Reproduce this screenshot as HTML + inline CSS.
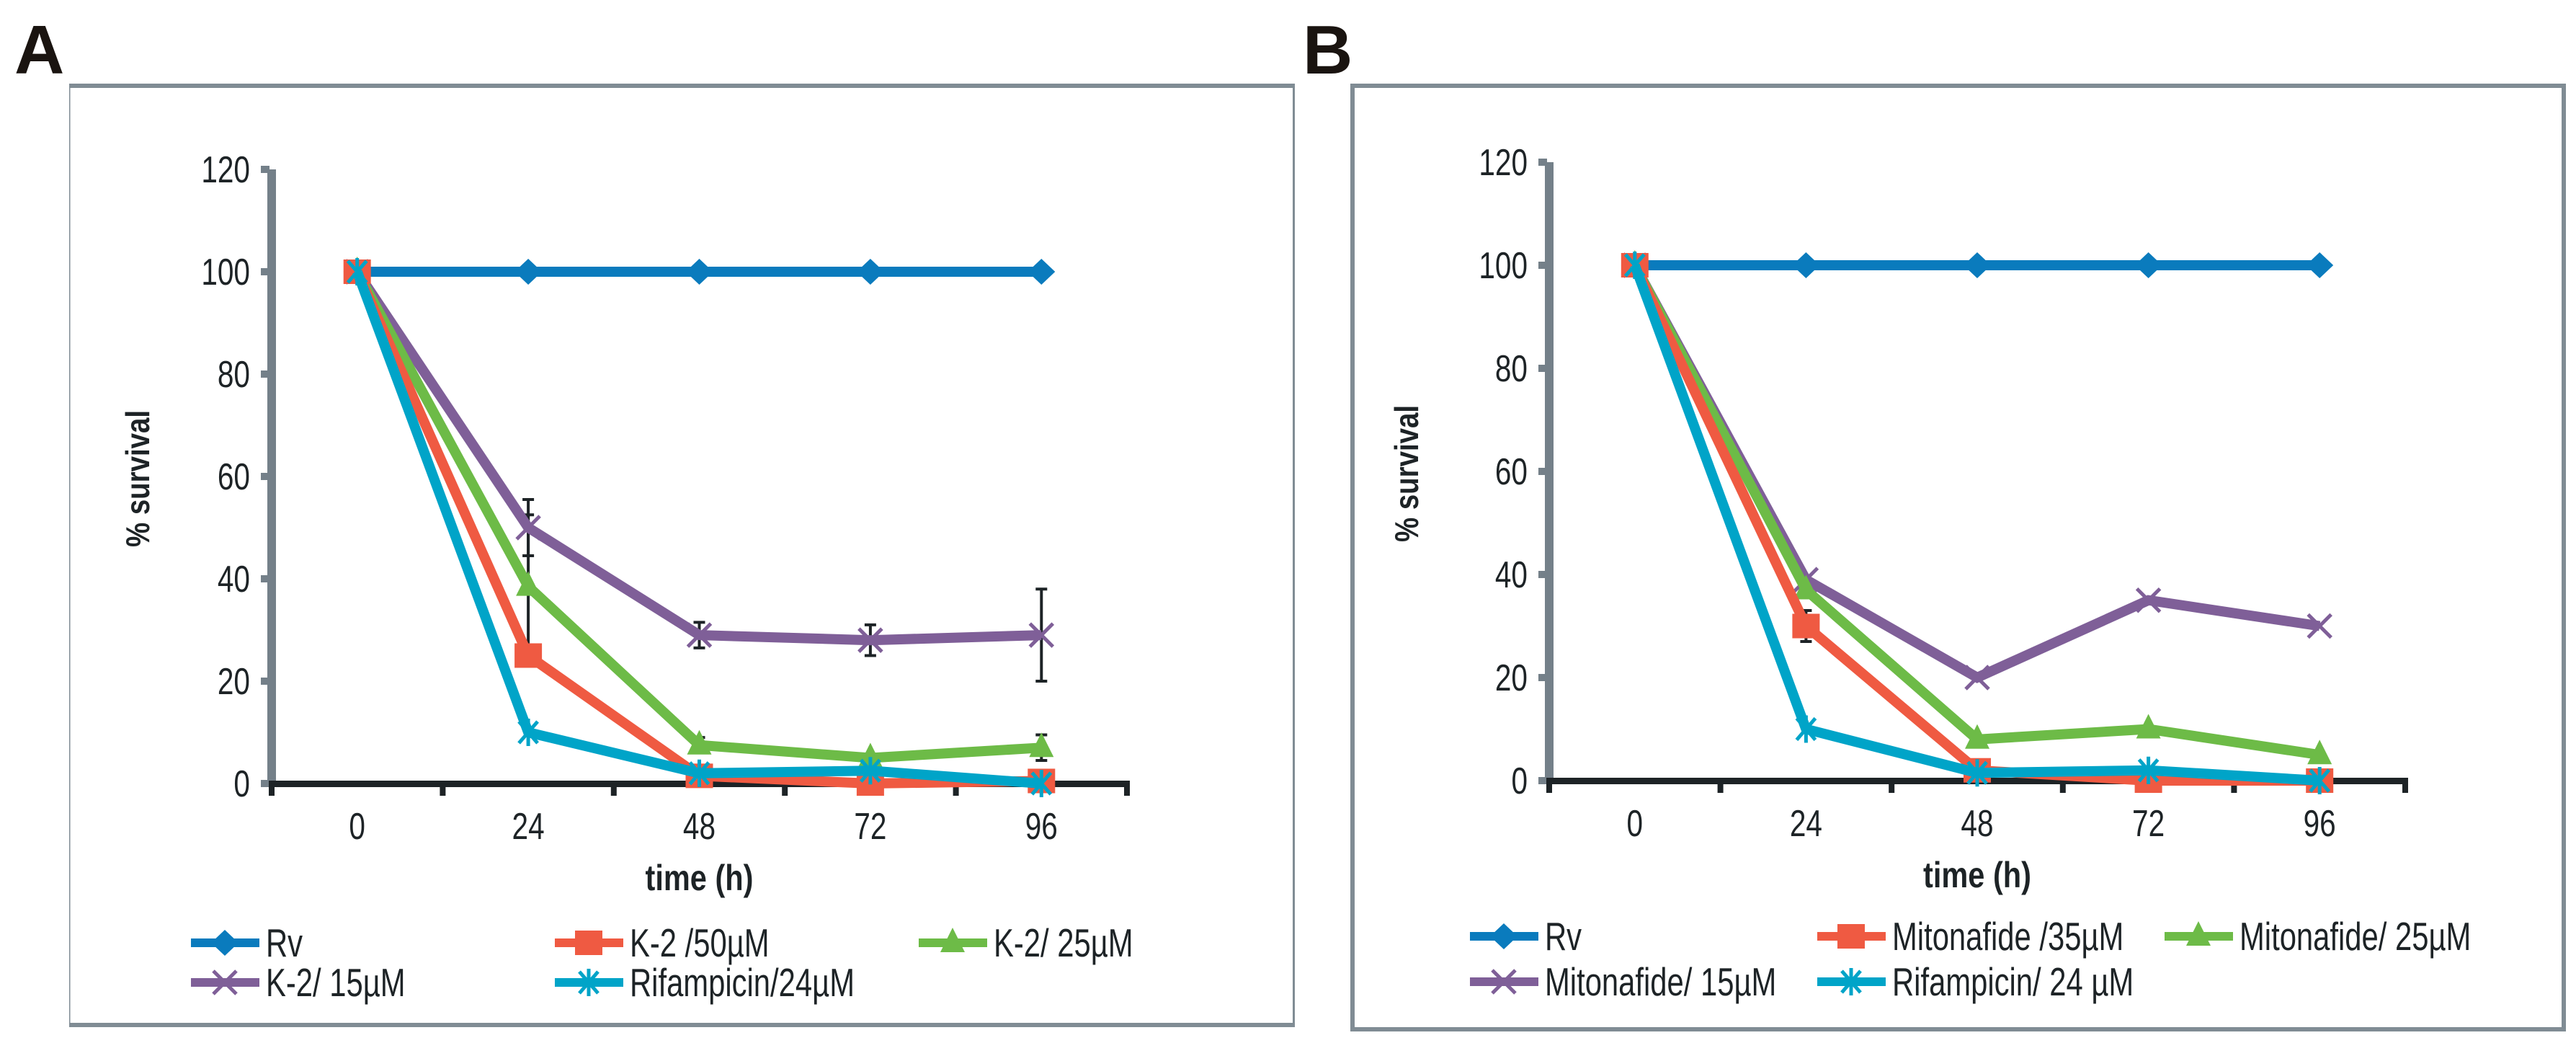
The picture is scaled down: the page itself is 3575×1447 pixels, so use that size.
<!DOCTYPE html>
<html><head><meta charset="utf-8"><style>
html,body{margin:0;padding:0;background:#fff;}
svg{display:block;font-family:"Liberation Sans",sans-serif;}
</style></head><body>
<svg id="svg" width="3575" height="1447" viewBox="0 0 3575 1447" xmlns="http://www.w3.org/2000/svg">
<text x="20" y="102" font-size="96" font-weight="bold" fill="#1a1410">A</text>
<text x="1808" y="102" font-size="96" font-weight="bold" fill="#1a1410">B</text>
<g>
<rect x="96" y="116" width="1701" height="6" fill="#808c94"/>
<rect x="96" y="1419" width="1701" height="6" fill="#808c94"/>
<rect x="96" y="116" width="1.5" height="1309" fill="#808c94"/>
<rect x="1794" y="116" width="3" height="1309" fill="#808c94"/>
</g>
<rect x="1877" y="119" width="1681" height="1309" fill="none" stroke="#808c94" stroke-width="6"/>
<g id="chartA"></g>
<g id="chartB"></g>
</svg>
<script>
const categories = [0, 24, 48, 72, 96];
const yTicks = [0, 20, 40, 60, 80, 100, 120];
const seriesNamesA = ["Rv", "K-2 /50µM", "K-2/ 25µM", "K-2/ 15µM", "Rifampicin/24µM"];
const rvA = [100, 100, 100, 100, 100];
const k2_50 = [100, 25, 1.5, 0, 0.5];
const k2_25 = [100, 38.5, 7.5, 5, 7];
const k2_15 = [100, 50, 29, 28, 29];
const rifA = [100, 10, 2, 2.5, 0];
const errK2_15 = [0, 5.5, 2.5, 3, 9];
const errK2_25 = [0, 14, 1.5, 0, 2.5];
const seriesNamesB = ["Rv", "Mitonafide /35µM", "Mitonafide/ 25µM", "Mitonafide/ 15µM", "Rifampicin/ 24 µM"];
const rvB = [100, 100, 100, 100, 100];
const mito35 = [100, 30, 2, 0, 0];
const mito25 = [100, 37, 8, 10, 5];
const mito15 = [100, 39, 20, 35, 30];
const rifB = [100, 10, 1.5, 2, 0];
const errMito35 = [0, 3, 0, 0, 0];

const NS = "http://www.w3.org/2000/svg";
const colors = ["#0a7bbd", "#ef5a42", "#6dbb47", "#7f5f98", "#00a4c8"];
const markers = ["diamond", "square", "triangle", "x", "star"];

function mk(tag, attrs, parent){const e=document.createElementNS(NS,tag);for(const k in attrs)e.setAttribute(k,attrs[k]);parent.appendChild(e);return e;}

function marker(g, type, cx, cy, col){
  let m;
  if(type==="diamond"){m=mk("polygon",{points:`${cx},${cy-18} ${cx+19},${cy} ${cx},${cy+18} ${cx-19},${cy}`,fill:col},g);}
  else if(type==="square"){m=mk("rect",{x:cx-19,y:cy-17,width:38,height:34,fill:col},g);}
  else if(type==="triangle"){m=mk("polygon",{points:`${cx},${cy-21} ${cx+17},${cy+13} ${cx-17},${cy+13}`,fill:col},g);}
  else if(type==="x"){m=mk("path",{d:`M${cx-16},${cy-16}L${cx+16},${cy+16}M${cx+16},${cy-16}L${cx-16},${cy+16}`,stroke:col,"stroke-width":5,fill:"none"},g);}
  else {m=mk("path",{d:`M${cx-13},${cy-15}L${cx+13},${cy+15}M${cx+13},${cy-15}L${cx-13},${cy+15}M${cx},${cy-19}L${cx},${cy+19}`,stroke:col,"stroke-width":5,fill:"none"},g);}
  
  
}

function drawChart(g, cfg){
  const {axX, axR, y0, yPer20, series, names, errs, legend} = cfg;
  const step = (axR-axX)/categories.length;
  const xs = i => axX + step*(i+0.5);
  const ys = v => y0 - v/20*yPer20;
  const yTop = ys(120);
  const ya = mk("rect",{x:axX-6,y:yTop,width:12,height:y0-yTop+4,fill:"#748089"},g);
  
  
  yTicks.forEach(t=>{
    const tk = mk("rect",{x:axX-15,y:ys(t)-5,width:12,height:10,fill:"#748089"},g);
    
    
    const tl = mk("text",{x:axX-30,y:ys(t)+18,"font-size":52,"text-anchor":"end",fill:"#1d2326",transform:`translate(${axX-30},0) scale(0.78,1) translate(${-(axX-30)},0)`},g);
    tl.textContent = t;
    
    
  });
  const xa = mk("rect",{x:axX-4,y:y0-4,width:axR-axX+8,height:9,fill:"#1d2326"},g);
  
  
  for(let i=0;i<=categories.length;i++){
    const tk = mk("rect",{x:axX+step*i-4,y:y0,width:8,height:17,fill:"#1d2326"},g);
    
    
  }
  categories.forEach((c,i)=>{
    const tl = mk("text",{x:xs(i),y:y0+77,"font-size":52,"text-anchor":"middle",fill:"#1d2326",transform:`translate(${xs(i)},0) scale(0.78,1) translate(${-xs(i)},0)`},g);
    tl.textContent = c;
    
    
  });
  const xt = mk("text",{x:(axX+axR)/2,y:y0+148,"font-size":50,"font-weight":"bold","text-anchor":"middle",fill:"#1d2326",textLength:150,lengthAdjust:"spacingAndGlyphs"},g);
  xt.textContent = "time (h)";
  
  
  const ytl = mk("text",{x:0,y:0,"font-size":46,"font-weight":"bold","text-anchor":"middle",fill:"#1d2326",textLength:190,lengthAdjust:"spacingAndGlyphs",transform:`translate(${cfg.yTitleX},${(yTop+y0)/2+3}) rotate(-90)`},g);
  ytl.textContent = "% survival";
  
  
  errs.forEach(([si, arr])=>{
    arr.forEach((e,i)=>{
      if(!e) return;
      const v = series[si][i], x = xs(i);
      const eb = mk("path",{d:`M${x},${ys(v+e)}L${x},${ys(v-e)}M${x-8},${ys(v+e)}L${x+8},${ys(v+e)}M${x-8},${ys(v-e)}L${x+8},${ys(v-e)}`,stroke:"#1d2326","stroke-width":4,fill:"none"},g);
      
      
    });
  });
  [0,3,2,1,4].forEach(si=>{
    const d = series[si].map((v,i)=>(i?"L":"M")+xs(i)+","+ys(v)).join("");
    const sg = mk("g",{},g);
    
    
    const ln = mk("path",{d:d,stroke:colors[si],"stroke-width":14,fill:"none","stroke-linejoin":"miter"},sg);
    
    
    series[si].forEach((v,i)=>marker(sg, markers[si], xs(i), ys(v), colors[si]));
  });
  legend.forEach((pos,si)=>{
    const lg = mk("g",{},g);
    
    
    const [lx, ly] = pos;
    const ll = mk("rect",{x:lx,y:ly-6,width:95,height:12,fill:colors[si]},lg);
    
    
    marker(lg, markers[si], lx+47, ly, colors[si]);
    const lt = mk("text",{x:lx+104,y:ly+19,"font-size":55,fill:"#1d2326",transform:`translate(${lx+104},0) scale(0.76,1) translate(${-(lx+104)},0)`},lg);
    lt.textContent = names[si];
    
    
  });
}

drawChart(document.getElementById("chartA"), {
  axX:377, axR:1564, y0:1087, yPer20:142, yTitleX:207,
  series:[rvA,k2_50,k2_25,k2_15,rifA], names:seriesNamesA,
  errs:[[3,errK2_15],[2,errK2_25]],
  legend:[[265,1308],[770,1308],[1275,1308],[265,1363],[770,1363]]
});
drawChart(document.getElementById("chartB"), {
  axX:2150, axR:3338, y0:1083, yPer20:143, yTitleX:1968,
  series:[rvB,mito35,mito25,mito15,rifB], names:seriesNamesB,
  errs:[[1,errMito35]],
  legend:[[2040,1299],[2522,1299],[3004,1299],[2040,1362],[2522,1362]]
});
</script>
</body></html>
